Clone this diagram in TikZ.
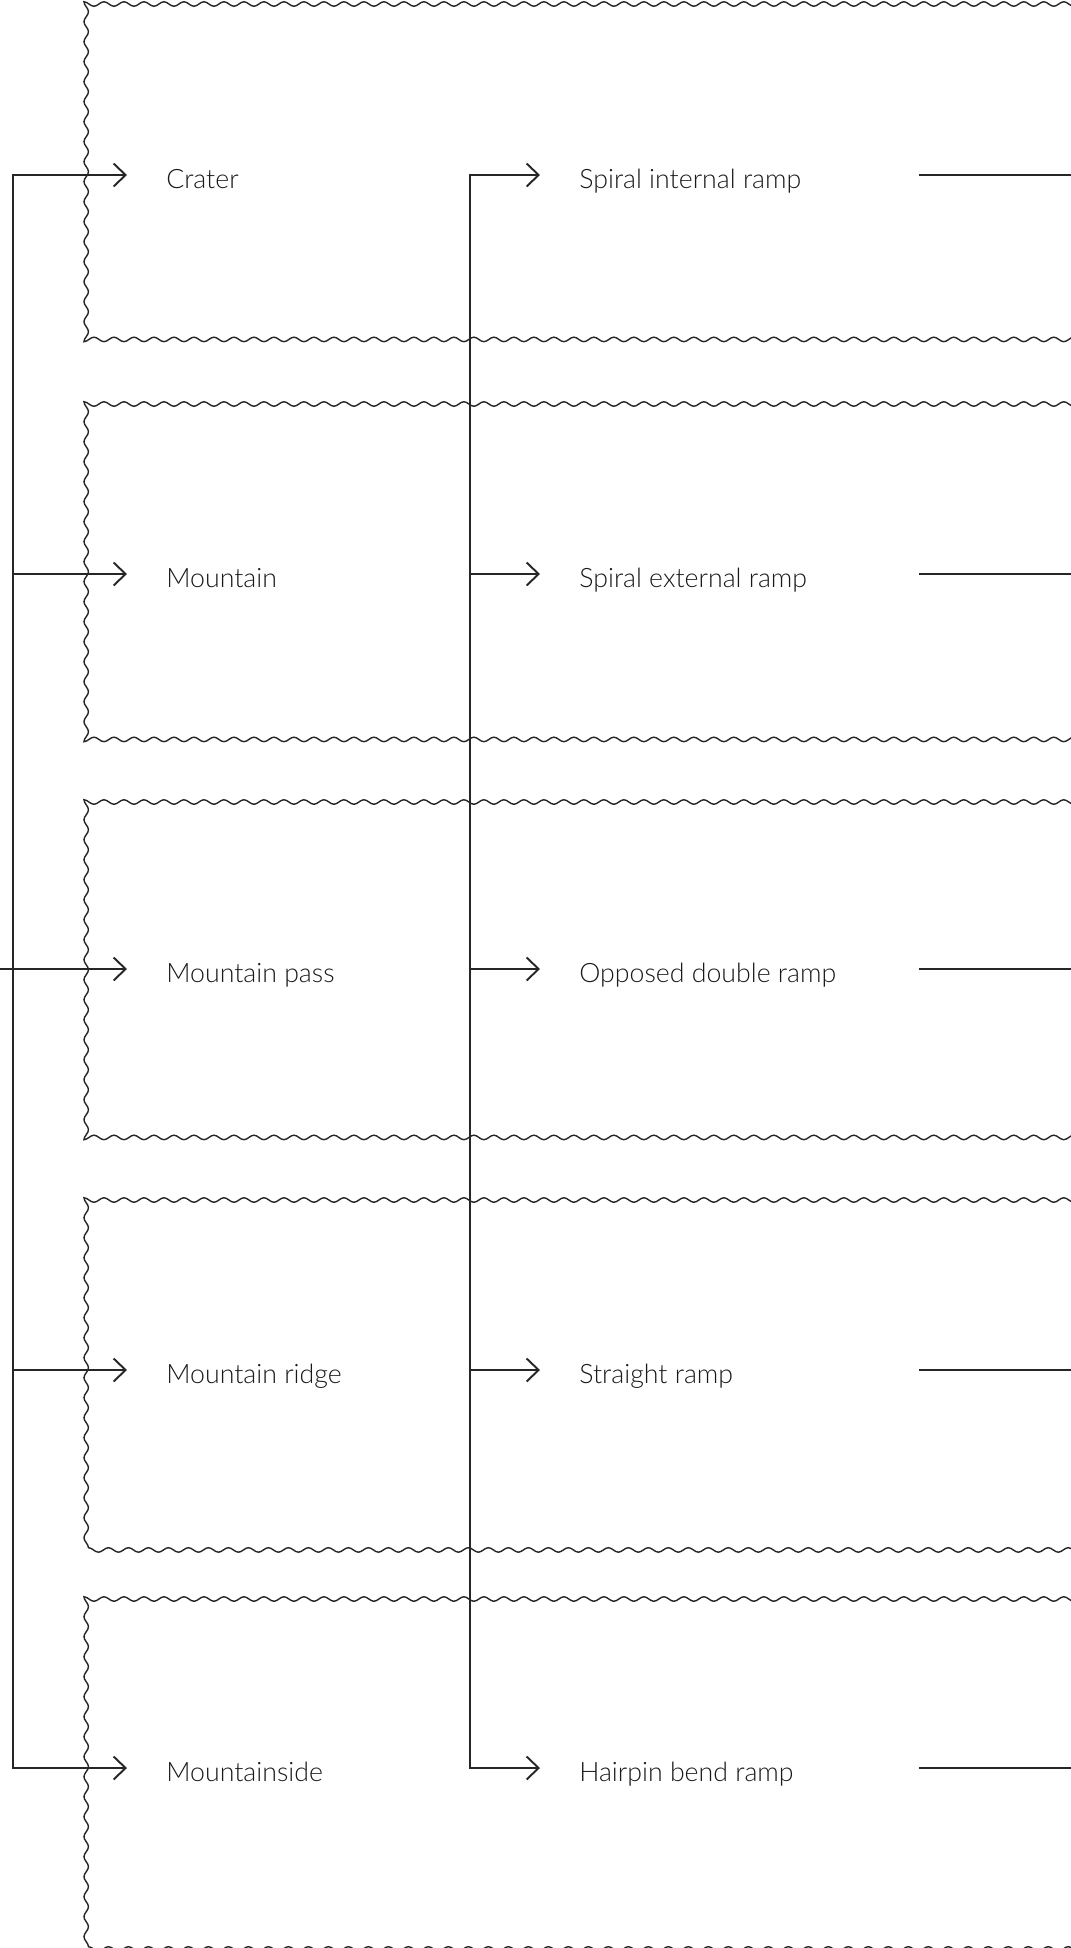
\documentclass[tikz,border=0pt]{standalone}
\usepackage{fontspec}
\setmainfont{Lato Light}
\usetikzlibrary{arrows.meta, decorations.pathmorphing}
\tikzstyle{zone}=[draw=black!85, line width=0.8pt, decorate, decoration={snake, segment length=0.4cm, amplitude=0.045cm}]
\tikzstyle{link}=[line width=1.1pt, draw=black!85, line cap=rect]
\tikzstyle{feed}=[line width=1.1pt, draw=black!85, -{Straight Barb[length=0.24cm, width=0.46cm]}]
\tikzstyle{itemtext}=[anchor=west, inner ysep=0pt, inner xsep=0.78cm, text height=15.5pt, text depth=0pt, text=black!90, font=\fontsize{15.2}{18}\selectfont]

\begin{document}
\begin{tikzpicture}[x=0.02cm, y=-0.02cm]
				\useasboundingbox (0,0) rectangle (1071,1948);
				\clip (0,0) rectangle (1071,1948);

				% Wavy bands, open to the right
				\foreach \t/\b in {4/342, 404/743, 802/1141, 1200/1541, 1599/1939}{
					\draw[zone] (1100,\t) -- (84,\t) -- (84,\b) -- (1100,\b);
				}

				% Landforms
				\node[itemtext] (crater)       at (127, 175) {Crater};
				\node[itemtext] (mountain)     at (127, 574) {Mountain};
				\node[itemtext] (pass)         at (127, 969) {Mountain pass};
				\node[itemtext] (ridge)        at (127,1370) {Mountain ridge};
				\node[itemtext] (mountainside) at (127,1768) {Mountainside};

				% Ramp types
				\node[itemtext] (spiralin)  at (540, 175) {Spiral internal ramp};
				\node[itemtext] (spiralout) at (540, 574) {Spiral external ramp};
				\node[itemtext] (opposed)   at (540, 969) {Opposed double ramp};
				\node[itemtext] (straight)  at (540,1370) {Straight ramp};
				\node[itemtext] (hairpin)   at (540,1768) {Hairpin bend ramp};

				\coordinate (edge)  at (0,0);
				\coordinate (lbus)  at (12.7,0);
				\coordinate (mbus)  at (470,0);
				\coordinate (cut)   at (919,0);
				\coordinate (away)  at (1080,0);

				% Left bus
				\draw[link] (crater.west -| lbus) -- (mountainside.west -| lbus);
				\foreach \n in {crater, mountain, ridge, mountainside}{ \draw[feed] (\n.west -| lbus) -- (\n.west); }
				\draw[feed] (pass.west -| edge) -- (pass.west);

				% Middle bus
				\draw[link] (spiralin.west -| mbus) -- (hairpin.west -| mbus);
				\foreach \n in {spiralin, spiralout, opposed, straight, hairpin}{
					\draw[feed] (\n.west -| mbus) -- (\n.west);
					\draw[link, line cap=butt] (\n.west -| cut) -- (\n.west -| away);
				}
			\end{tikzpicture}
\end{document}
